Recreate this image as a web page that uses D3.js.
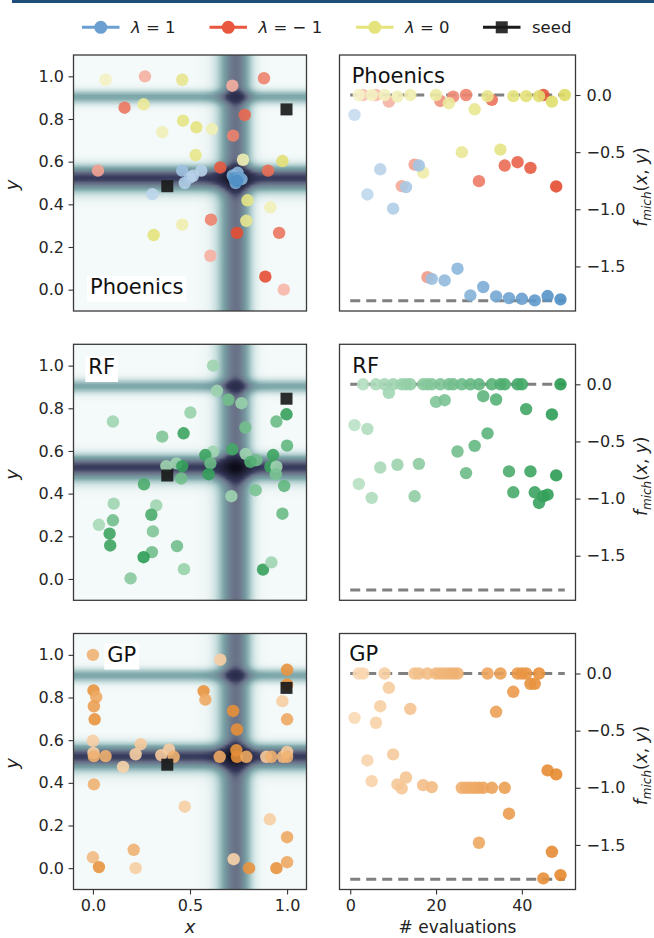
<!DOCTYPE html>
<html><head><meta charset="utf-8">
<script src="https://cdn.jsdelivr.net/npm/d3@7"></script>
<style>body{margin:0;background:#fff}svg{display:block;font-family:"DejaVu Sans",sans-serif}</style>
</head><body><svg id="c" width="654" height="938"></svg>
<script>
// ---------------- data ----------------
const xyTicks = [0, 0.2, 0.4, 0.6, 0.8, 1.0];
const xTicksBottom = [0, 0.5, 1.0];
const evalTicks = [0, 20, 40];
const fTicks = [0, -0.5, -1.0, -1.5];
const panelNames = ["Phoenics", "RF", "GP"];
const legendLabels = ["λ = 1", "λ = − 1", "λ = 0", "seed"];
const seeds = [[0.383, 0.485], [0.997, 0.845]];
const fMin = -1.80, fMax = 0.0;

// Phoenics, left: [x, y, progress]
const phxBlueXY = [[0.306,0.448,0.1],[0.46,0.558,0.35],[0.473,0.5,0.2],[0.5,0.525,0.25],[0.515,0.534,0.15],[0.558,0.558,0.15],[0.72,0.535,0.6],[0.745,0.548,0.5],[0.765,0.518,0.55],[0.735,0.5,0.7],[0.728,0.522,0.95],[0.752,0.525,0.8],[0.742,0.51,1.0]];
const phxRedXY = [[0.268,1.0,0.2],[0.718,0.956,0.2],[0.881,0.991,0.55],[0.163,0.853,0.65],[0.782,0.819,0.75],[0.722,0.722,0.55],[0.026,0.558,0.3],[0.656,0.573,0.85],[0.902,0.558,0.7],[0.608,0.328,0.55],[0.742,0.266,0.95],[0.959,0.266,0.65],[0.605,0.159,0.2],[0.888,0.061,0.95],[0.983,0.0,0.15]];
const phxYellowXY = [[0.065,0.984,0.1],[0.46,0.984,0.6],[0.261,0.869,0.5],[0.357,0.738,0.2],[0.464,0.792,0.7],[0.533,0.761,0.75],[0.613,0.753,0.25],[0.529,0.631,0.65],[0.773,0.609,0.25],[0.976,0.603,0.85],[0.796,0.419,0.7],[0.914,0.386,0.2],[0.79,0.323,0.6],[0.46,0.305,0.3],[0.313,0.256,0.8]];
// Phoenics, right: [evaluation, f]
const phxBlueF = [[1,-0.174],[4,-0.87],[7,-0.65],[10,-0.994],[13,-0.806],[16,-0.617],[19,-1.609],[22,-1.623],[25,-1.52],[28,-1.754],[31,-1.68],[34,-1.762],[37,-1.777],[40,-1.783],[43,-1.797],[46,-1.759],[49,-1.788]];
const phxRedF = [[3,0],[6,0],[9,-0.058],[12,-0.797],[15,-0.609],[18,-1.594],[21,-0.052],[24,-0.015],[27,0],[30,-0.754],[33,-0.043],[36,-0.617],[39,-0.588],[42,-0.638],[45,0],[48,-0.80]];
const phxYellowF = [[2,0],[5,0],[8,0],[11,-0.014],[14,0],[17,-0.68],[20,0],[23,-0.072],[26,-0.50],[29,-0.125],[32,-0.01],[35,-0.478],[38,-0.01],[41,-0.01],[44,-0.01],[47,-0.058],[50,0]];

// RF
const rfXY = [[0.619,1.0,0.2],[0.639,0.882,0.2],[0.698,0.84,0.5],[0.765,0.824,0.25],[0.997,0.772,0.9],[0.945,0.738,0.55],[0.103,0.738,0.2],[0.502,0.78,0.25],[0.357,0.667,0.4],[0.467,0.683,0.85],[0.785,0.71,0.5],[1.0,0.625,0.6],[0.619,0.597,0.2],[0.579,0.581,0.85],[0.718,0.608,0.8],[0.787,0.586,0.2],[0.842,0.557,0.5],[0.811,0.549,0.7],[0.928,0.581,0.85],[0.914,0.526,0.85],[0.945,0.526,0.2],[0.942,0.491,0.45],[0.605,0.542,0.55],[0.596,0.491,0.9],[0.378,0.529,0.2],[0.43,0.542,0.2],[0.46,0.529,0.9],[0.455,0.471,0.5],[0.713,0.388,0.2],[0.838,0.416,0.45],[0.985,0.436,0.6],[0.976,0.306,0.55],[0.263,0.444,0.75],[0.107,0.353,0.2],[0.326,0.345,0.2],[0.301,0.301,0.75],[0.031,0.254,0.15],[0.103,0.275,0.5],[0.086,0.212,0.85],[0.089,0.157,0.85],[0.309,0.223,0.4],[0.304,0.126,0.5],[0.261,0.102,0.95],[0.433,0.154,0.5],[0.469,0.046,0.25],[0.194,0.003,0.35],[0.876,0.044,0.9],[0.919,0.078,0.2]];
const rfF = [[3,0],[6,0],[8,0],[10,0],[12,0],[13,0],[14,0],[17,0],[18,0],[19,0],[21,0],[23,0],[24,0],[26,0],[28,0],[30,0],[33,0],[35,0],[36,0],[39,0],[40,0],[49,0],
  [9,-0.075],[20,-0.154],[22,-0.139],[31,-0.104],[34,-0.133],[41,-0.217],[47,-0.264],
  [1,-0.357],[4,-0.391],[2,-0.872],[5,-0.994],[7,-0.728],[11,-0.704],[16,-0.696],[15,-0.98],[25,-0.588],[27,-0.777],[29,-0.539],[32,-0.429],[37,-0.762],[38,-0.945],[42,-0.762],[43,-0.945],[44,-1.038],[45,-0.98],[46,-0.965],[48,-0.797]];

// GP
const gpXY = [[0.0,1.0,0.5],[0.656,0.977,0.15],[1.0,0.93,0.85],[1.0,0.861,0.85],[0.976,0.783,0.15],[0.003,0.833,0.85],[0.017,0.802,0.6],[0.005,0.759,0.7],[0.009,0.698,0.85],[0.57,0.83,0.85],[0.579,0.79,0.6],[0.722,0.737,0.9],[0.742,0.65,0.9],[1.0,0.698,0.6],[0.0,0.597,0.15],[0.003,0.54,0.15],[0.005,0.525,0.5],[0.065,0.525,0.5],[0.155,0.475,0.1],[0.22,0.534,0.15],[0.246,0.581,0.2],[0.352,0.53,0.2],[0.392,0.556,0.15],[0.416,0.522,0.5],[0.653,0.522,0.6],[0.739,0.553,0.85],[0.742,0.522,0.9],[0.79,0.522,0.6],[0.893,0.522,0.2],[0.919,0.522,0.5],[0.979,0.522,0.4],[1.0,0.545,0.2],[1.0,0.522,0.5],[0.005,0.393,0.5],[0.473,0.288,0.15],[0.911,0.229,0.15],[1.0,0.145,0.6],[0.0,0.051,0.4],[0.031,0.005,0.85],[0.21,0.086,0.5],[0.22,0.0,0.15],[0.725,0.042,0.1],[0.804,0.0,0.85],[0.945,0.0,0.85],[1.0,0.028,0.6]];
const gpF = [[2,0],[3,0],[8,0],[15,0],[16,0],[18,0],[20,0],[21,0],[22,0],[23,0],[24,0],[25,0],[32,0],[35,0],[39,0],[40,0],[41,0],[44,0],
  [9,-0.125],[42,-0.09],[43,-0.09],[38,-0.16],[34,-0.335],[14,-0.31],[7,-0.286],[1,-0.388],[6,-0.431],
  [4,-0.761],[5,-0.942],[10,-0.708],[11,-0.97],[12,-1.006],[13,-0.91],[17,-0.977],[19,-0.994],
  [26,-1.0],[27,-1.0],[28,-1.0],[29,-1.0],[30,-1.0],[31,-1.0],[33,-1.0],[36,-1.0],
  [37,-1.227],[30,-1.481],[46,-0.848],[48,-0.883],[47,-1.56],[45,-1.793],[49,-1.764]];

// ---------------- styles ----------------
const ramps = {
  blue: ["#c9ddef", "#4e8ec6"], red: ["#f9c9bd", "#e4472b"], yellow: ["#f6f4cc", "#dfdd66"],
  green: ["#bde3c8", "#26994f"], orange: ["#fadbb8", "#e5862a"]
};
const legendColors = ["#6b9fd1", "#e8573e", "#e5e47c", "#1a1a1a"];
const heatStops = [-1.8, -1.0, -0.8, -0.41, -0.15, 0];
const heatColors = ["#0b0b16", "#35385a", "#6a7288", "#7aa5a8", "#c8dede", "#f4f9f9"];

const LX0 = 73.5, LX1 = 306.5, RX0 = 339.5, RX1 = 575.5, PH = 256;
const tops = [55, 344.3, 633.5];
const R = 6.2, OP = 0.9;
const HEAT_DS = 3; // landscape grid cell size in px (smoothed when scaled)

const svg = d3.select("#c");
svg.append("rect").attr("width", 654).attr("height", 938).attr("fill", "#fff");
svg.append("line").attr("x1", 12).attr("x2", 654).attr("y1", 1.5).attr("y2", 1.5)
  .attr("stroke", "#1d4e7a").attr("stroke-width", 3);

const xL = d3.scaleLinear([-0.1, 1.1], [LX0, LX1]);
const xR = d3.scaleLinear([-2.5, 52.5], [RX0, RX1]);
const heat = d3.scaleLinear(heatStops, heatColors).clamp(true).interpolate(d3.interpolateRgb);

function mich(x, y) {
  const X = 3 * x, Y = 3 * y;
  return -(Math.sin(X) * Math.pow(Math.sin(X * X / Math.PI), 20) +
           Math.sin(Y) * Math.pow(Math.sin(2 * Y * Y / Math.PI), 20));
}

function heatImage(yS, top) {
  const W = Math.round((LX1 - LX0) / HEAT_DS), H = Math.round(PH / HEAT_DS);
  const sx = (LX1 - LX0) / W, sy = PH / H;
  const cv = document.createElement("canvas"); cv.width = W; cv.height = H;
  const ctx = cv.getContext("2d"); const img = ctx.createImageData(W, H);
  for (let j = 0; j < H; j++) for (let i = 0; i < W; i++) {
    const x = xL.invert(LX0 + (i + 0.5) * sx), y = yS.invert(top + (j + 0.5) * sy);
    const c = d3.rgb(heat(mich(x, y)));
    const k = 4 * (j * W + i);
    img.data[k] = c.r; img.data[k + 1] = c.g; img.data[k + 2] = c.b; img.data[k + 3] = 255;
  }
  ctx.putImageData(img, 0, 0);
  return cv.toDataURL();
}

function styleAxis(g) {
  g.select(".domain").remove();
  g.selectAll(".tick line").attr("stroke", "#333").attr("stroke-width", 1.1);
  g.selectAll(".tick text").attr("fill", "#262626").attr("font-size", 16)
    .attr("font-family", '"DejaVu Sans", sans-serif');
}

function colorOf(ramp, t) { return d3.interpolateRgb(ramp[0], ramp[1])(Math.max(0, Math.min(1, t))); }

function labelBox(x, y, text, box) {
  const g = svg.append("g");
  const r = g.append("rect").attr("fill", "#fff");
  const t = g.append("text").attr("x", x).attr("y", y).attr("font-size", 21).attr("fill", "#111").text(text);
  if (box) {
    const b = t.node().getBBox();
    r.attr("x", b.x - 3).attr("y", b.y + 1).attr("width", b.width + 6).attr("height", b.height + 2);
  }
}

const leftSets = [
  [[phxRedXY, ramps.red], [phxYellowXY, ramps.yellow], [phxBlueXY, ramps.blue]],
  [[rfXY, ramps.green]],
  [[gpXY, ramps.orange]]
];
const rightSets = [
  [[phxRedF, ramps.red], [phxYellowF, ramps.yellow], [phxBlueF, ramps.blue]],
  [[rfF, ramps.green]],
  [[gpF, ramps.orange]]
];

tops.forEach((top, p) => {
  const yL = d3.scaleLinear([-0.1, 1.1], [top + PH, top]);
  const yR = d3.scaleLinear([-1.89, 0.35], [top + PH, top]);
  const last = p === tops.length - 1;

  // ----- left: landscape -----
  svg.append("image").attr("href", heatImage(yL, top)).attr("x", LX0).attr("y", top)
    .attr("width", LX1 - LX0).attr("height", PH).attr("preserveAspectRatio", "none");

  const cl = "clipL" + p;
  svg.append("clipPath").attr("id", cl).append("rect").attr("x", LX0).attr("y", top).attr("width", LX1 - LX0).attr("height", PH);
  const gl = svg.append("g").attr("clip-path", `url(#${cl})`);
  leftSets[p].forEach(([arr, ramp]) => {
    gl.selectAll(null).data(arr).join("circle")
      .attr("cx", d => xL(d[0])).attr("cy", d => yL(d[1])).attr("r", R)
      .attr("fill", d => colorOf(ramp, d[2])).attr("fill-opacity", OP);
  });
  gl.selectAll(null).data(seeds).join("rect")
    .attr("x", d => xL(d[0]) - 6).attr("y", d => yL(d[1]) - 6).attr("width", 12).attr("height", 12)
    .attr("fill", "#1a1a1a").attr("fill-opacity", 0.92);

  svg.append("rect").attr("x", LX0).attr("y", top).attr("width", LX1 - LX0).attr("height", PH)
    .attr("fill", "none").attr("stroke", "#3a3a3a").attr("stroke-width", 1.3);

  svg.append("g").attr("transform", `translate(${LX0},0)`)
    .call(d3.axisLeft(yL).tickValues(xyTicks).tickFormat(d3.format(".1f")).tickSize(5).tickPadding(4.5))
    .call(styleAxis);
  svg.append("text").attr("transform", `translate(18,${top + PH / 2 + 2}) rotate(-90)`)
    .attr("text-anchor", "middle").attr("font-size", 18).attr("font-style", "italic").attr("fill", "#222").text("y");

  // ----- right: trace -----
  const gr = svg.append("g");
  [fMax, fMin].forEach(v => {
    gr.append("line").attr("x1", xR(0)).attr("x2", xR(50)).attr("y1", yR(v)).attr("y2", yR(v))
      .attr("stroke", "#808080").attr("stroke-width", 3).attr("stroke-dasharray", "10,6");
  });
  rightSets[p].forEach(([arr, ramp]) => {
    gr.selectAll(null).data(arr).join("circle")
      .attr("cx", d => xR(d[0])).attr("cy", d => yR(d[1])).attr("r", R)
      .attr("fill", d => colorOf(ramp, d[0] / 50)).attr("fill-opacity", OP);
  });
  svg.append("rect").attr("x", RX0).attr("y", top).attr("width", RX1 - RX0).attr("height", PH)
    .attr("fill", "none").attr("stroke", "#3a3a3a").attr("stroke-width", 1.3);
  svg.append("g").attr("transform", `translate(${RX1},0)`)
    .call(d3.axisRight(yR).tickValues(fTicks).tickFormat(d3.format(".1f")).tickSize(5).tickPadding(6))
    .call(styleAxis);

  const fl = svg.append("text").attr("transform", `translate(647,${top + PH / 2 + 4}) rotate(-90)`)
    .attr("text-anchor", "middle").attr("font-size", 17).attr("fill", "#222");
  fl.append("tspan").attr("font-style", "italic").text("f");
  fl.append("tspan").attr("font-style", "italic").attr("font-size", 12).attr("dy", 4).text("mich");
  fl.append("tspan").attr("dy", -4).text("(");
  fl.append("tspan").attr("font-style", "italic").text("x");
  fl.append("tspan").text(", ");
  fl.append("tspan").attr("font-style", "italic").text("y");
  fl.append("tspan").text(")");

  if (last) {
    svg.append("g").attr("transform", `translate(0,${top + PH})`)
      .call(d3.axisBottom(xL).tickValues(xTicksBottom).tickFormat(d3.format(".1f")).tickSize(5).tickPadding(5))
      .call(styleAxis);
    svg.append("g").attr("transform", `translate(0,${top + PH})`)
      .call(d3.axisBottom(xR).tickValues(evalTicks).tickFormat(d3.format("d")).tickSize(5).tickPadding(5))
      .call(styleAxis);
    svg.append("text").attr("x", (LX0 + LX1) / 2).attr("y", 933).attr("text-anchor", "middle")
      .attr("font-size", 18).attr("font-style", "italic").attr("fill", "#222").text("x");
    svg.append("text").attr("x", (RX0 + RX1) / 2).attr("y", 933).attr("text-anchor", "middle")
      .attr("font-size", 17).attr("fill", "#222").text("# evaluations");
  }
});

// panel labels
labelBox(90, 294, panelNames[0], true);
labelBox(88.3, 374, panelNames[1], true);
labelBox(107.3, 661.5, panelNames[2], true);
labelBox(351.7, 83.3, panelNames[0], false);
labelBox(352.3, 372.7, panelNames[1], false);
labelBox(349.3, 660.7, panelNames[2], false);

// legend
const legX = [82, 209.5, 356, 483];
const lg = svg.append("g");
legendLabels.forEach((lab, i) => {
  const x0 = legX[i], cy = 27.3, col = legendColors[i];
  lg.append("line").attr("x1", x0).attr("x2", x0 + 37.5).attr("y1", cy).attr("y2", cy)
    .attr("stroke", col).attr("stroke-width", 3);
  if (i < 3) lg.append("circle").attr("cx", x0 + 18.75).attr("cy", cy).attr("r", 6.5).attr("fill", col);
  else lg.append("rect").attr("x", x0 + 18.75 - 6).attr("y", cy - 6).attr("width", 12).attr("height", 12).attr("fill", col).attr("fill-opacity", 0.9);
  const t = lg.append("text").attr("x", x0 + 49).attr("y", cy + 6).attr("font-size", 16.5).attr("fill", "#222");
  if (i < 3) {
    t.append("tspan").attr("font-style", "italic").text(lab.slice(0, 1));
    t.append("tspan").text(lab.slice(1));
  } else t.text(lab);
});
</script></body></html>
